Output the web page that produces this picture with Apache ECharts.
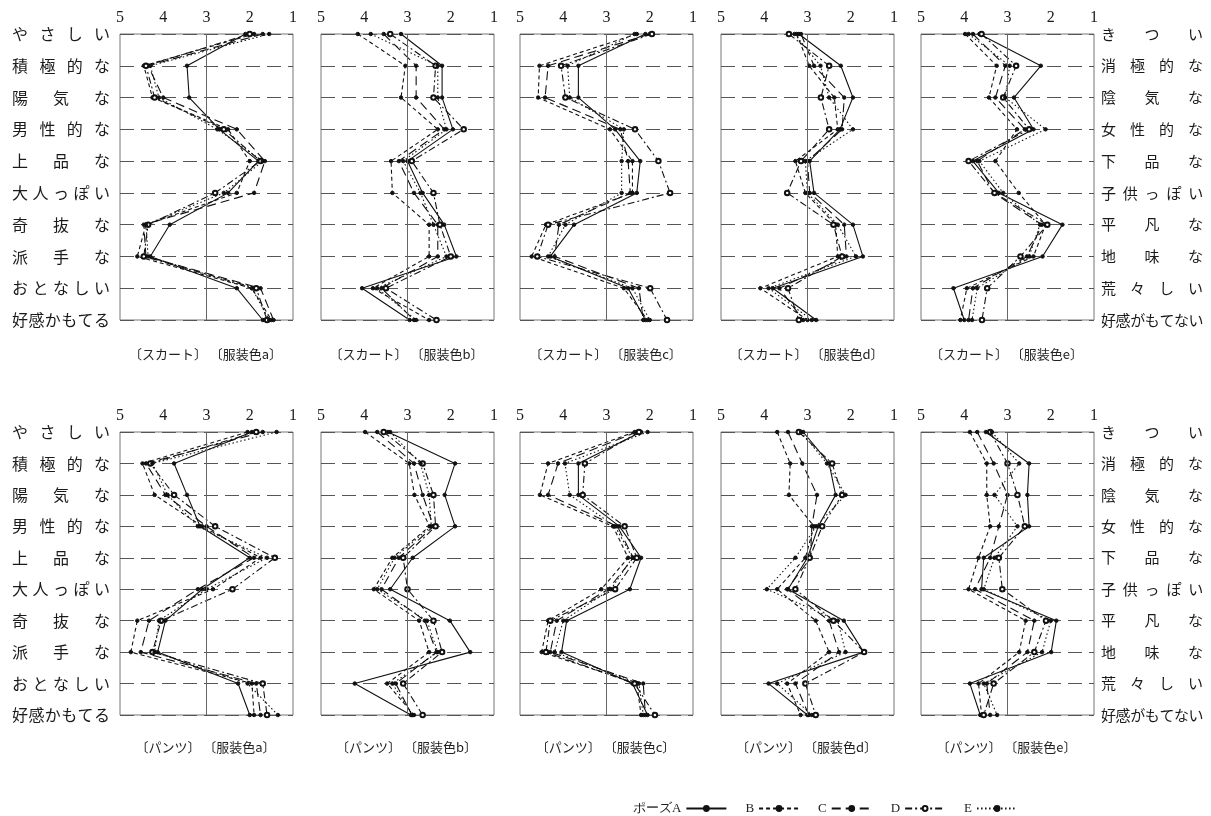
<!DOCTYPE html>
<html><head><meta charset="utf-8">
<script src="https://cdn.jsdelivr.net/npm/echarts@6/dist/echarts.min.js"></script>
<style>html,body{margin:0;padding:0;background:#fff}#c{width:1211px;height:816px}</style>
</head><body><div id="c"></div>
<script>
// ---- categories / labels ----
const leftCategories = ['やさしい','積極的な','陽気な','男性的な','上品な','大人っぽい','奇抜な','派手な','おとなしい','好感かもてる'];
const rightCategories = ['きつい','消極的な','陰気な','女性的な','下品な','子供っぽい','平凡な','地味な','荒々しい','好感がもてない'];
const poseNames = ['ポーズA','B','C','D','E'];
const panelCaptions = [
  '〔スカート〕 〔服装色a〕','〔スカート〕 〔服装色b〕','〔スカート〕 〔服装色c〕','〔スカート〕 〔服装色d〕','〔スカート〕 〔服装色e〕',
  '〔パンツ〕 〔服装色a〕','〔パンツ〕 〔服装色b〕','〔パンツ〕 〔服装色c〕','〔パンツ〕 〔服装色d〕','〔パンツ〕 〔服装色e〕'
];

// ---- values (rows: pose A, B, C, D, E; columns follow the categories) ----
const skirtA = [
  [2.1, 3.45, 3.4, 2.7, 1.8, 2.5, 3.85, 4.3, 2.3, 1.7],
  [1.9, 4.45, 4.25, 2.5, 2.0, 2.3, 4.4, 4.6, 1.95, 1.5],
  [1.7, 4.35, 4.0, 2.3, 1.65, 1.9, 4.45, 4.4, 1.75, 1.45],
  [2.0, 4.4, 4.2, 2.6, 1.75, 2.8, 4.35, 4.45, 1.85, 1.6],
  [1.55, 4.3, 4.1, 2.75, 1.7, 2.6, 4.4, 4.35, 1.95, 1.55]
];
const skirtB = [
  [3.15, 2.2, 2.2, 1.95, 3.0, 2.65, 2.15, 1.87, 4.05, 2.95],
  [4.15, 3.05, 3.15, 2.3, 3.38, 3.35, 2.5, 2.5, 3.8, 2.5],
  [3.55, 2.8, 2.8, 2.15, 3.2, 2.85, 2.3, 2.3, 3.6, 2.85],
  [3.4, 2.35, 2.4, 1.7, 2.9, 2.4, 2.25, 2.0, 3.5, 2.33],
  [3.85, 2.3, 2.3, 2.1, 3.1, 2.7, 2.4, 2.1, 3.7, 2.8]
];
const skirtC = [
  [2.1, 3.65, 3.65, 2.8, 2.22, 2.3, 3.75, 4.3, 2.5, 2.1],
  [2.3, 4.55, 4.58, 2.92, 2.4, 2.4, 4.4, 4.73, 2.6, 2.05],
  [2.0, 4.35, 4.42, 2.68, 2.5, 2.45, 4.1, 4.2, 2.25, 2.15],
  [1.95, 4.05, 3.95, 2.34, 1.8, 1.53, 4.35, 4.6, 1.99, 1.6],
  [2.35, 3.9, 3.85, 2.6, 2.65, 2.65, 3.95, 4.35, 2.4, 2.0]
];
const skirtD = [
  [3.2, 2.23, 1.95, 2.25, 2.95, 2.85, 1.95, 1.72, 3.8, 2.8],
  [3.25, 2.96, 2.38, 2.3, 3.28, 3.05, 2.35, 2.3, 4.09, 3.0],
  [3.15, 2.85, 2.15, 2.2, 3.0, 2.95, 2.15, 2.1, 3.65, 3.1],
  [3.43, 2.5, 2.69, 2.5, 3.15, 3.47, 2.4, 2.2, 3.45, 3.2],
  [3.3, 2.7, 2.5, 1.95, 3.05, 3.0, 2.3, 1.88, 3.9, 2.9]
];
const skirtE = [
  [3.65, 2.23, 2.85, 2.4, 3.8, 3.2, 1.73, 2.19, 4.25, 4.0],
  [3.98, 3.25, 3.43, 2.78, 3.28, 2.74, 2.12, 2.4, 3.94, 4.09],
  [3.8, 3.05, 3.28, 2.6, 3.7, 3.32, 2.2, 2.55, 3.8, 3.9],
  [3.6, 2.8, 3.1, 2.5, 3.9, 3.3, 2.08, 2.7, 3.47, 3.59],
  [3.9, 2.95, 3.05, 2.12, 3.65, 3.1, 2.25, 2.5, 3.7, 3.82]
];
const pantsA = [
  [1.95, 3.75, 3.45, 3.15, 2.0, 3.1, 3.95, 4.13, 2.27, 2.0],
  [2.05, 4.48, 4.2, 3.1, 1.75, 2.85, 4.6, 4.75, 1.95, 1.9],
  [1.7, 4.4, 3.95, 3.0, 1.9, 3.2, 4.33, 4.52, 1.85, 1.75],
  [1.85, 4.3, 3.75, 2.8, 1.42, 2.4, 4.05, 4.25, 1.7, 1.6],
  [1.38, 4.25, 3.9, 3.2, 1.6, 3.0, 4.1, 4.2, 2.05, 1.35]
];
const pantsB = [
  [3.45, 1.9, 2.14, 1.9, 2.88, 3.4, 2.02, 1.55, 4.22, 2.92],
  [3.98, 2.96, 2.84, 2.49, 3.35, 3.78, 2.73, 2.5, 3.47, 2.85],
  [3.7, 2.85, 2.65, 2.4, 3.2, 3.6, 2.6, 2.33, 3.27, 2.9],
  [3.55, 2.65, 2.4, 2.35, 3.1, 3.0, 2.4, 2.2, 3.1, 2.65],
  [3.4, 2.7, 2.5, 2.45, 3.3, 3.7, 2.55, 2.3, 3.35, 2.88]
];
const pantsC = [
  [2.2, 3.65, 3.65, 2.7, 2.2, 2.46, 3.92, 4.04, 2.4, 2.05],
  [2.35, 4.35, 4.54, 2.85, 2.5, 3.12, 4.35, 4.5, 2.3, 2.2],
  [2.3, 4.12, 4.35, 2.75, 2.38, 2.96, 4.15, 4.3, 2.15, 2.1],
  [2.25, 3.5, 3.55, 2.58, 2.3, 2.8, 4.3, 4.4, 2.35, 1.88],
  [2.05, 3.96, 3.85, 2.8, 2.4, 2.9, 4.0, 4.2, 2.25, 2.15]
];
const pantsD = [
  [3.1, 2.5, 2.35, 2.75, 3.0, 3.45, 2.16, 1.7, 3.9, 3.0],
  [3.7, 3.4, 3.43, 2.85, 3.05, 3.7, 2.81, 2.5, 3.47, 3.16],
  [3.45, 3.12, 2.78, 2.9, 2.93, 3.47, 2.5, 2.27, 3.28, 2.97],
  [3.2, 2.43, 2.2, 2.66, 2.95, 3.28, 2.4, 1.69, 3.05, 2.81],
  [3.15, 2.55, 2.12, 2.8, 3.28, 3.94, 2.3, 2.12, 3.7, 2.9]
];
const pantsE = [
  [3.5, 2.5, 2.54, 2.5, 3.55, 3.6, 1.87, 1.99, 3.87, 3.63],
  [3.87, 3.48, 3.48, 3.4, 3.67, 3.9, 2.58, 2.73, 3.67, 3.6],
  [3.7, 3.32, 3.0, 3.2, 3.4, 3.75, 2.38, 2.54, 3.48, 3.4],
  [3.4, 3.0, 2.77, 2.6, 3.2, 3.12, 2.11, 2.38, 3.32, 3.55],
  [3.36, 2.73, 3.3, 2.77, 3.3, 3.55, 2.0, 2.2, 3.55, 3.24]
];
const panels = [skirtA, skirtB, skirtC, skirtD, skirtE, pantsA, pantsB, pantsC, pantsD, pantsE];

// ---- layout ----
const colLefts = [120, 321, 520, 721, 921];
const plotW = 173;
const rowTops = [34, 432];
const rowHeights = [286, 283];
const serifFont = "'Liberation Serif', 'DejaVu Serif', serif";
const jpFont = "'Noto Sans CJK JP', sans-serif";

const poseStyles = [
  {type: 'solid', symbol: 'circle', size: 3.5},
  {type: [4, 3], symbol: 'circle', size: 3.5},
  {type: [9, 5], symbol: 'circle', size: 3.5},
  {type: [7, 3, 2, 3], symbol: 'emptyCircle', size: 4.5},
  {type: [1.5, 2.5], symbol: 'circle', size: 3.5}
];

function spaced(text, side) {
  const n = text.length;
  let s = '';
  for (let i = 0; i < n; i++) {
    const key = i === n - 1 ? side + 'z' : side + n;
    s += '{' + key + '|' + text[i] + '}';
  }
  return s;
}
const leftRich = {
  L3: {width: 41}, L4: {width: 27.3}, L5: {width: 20.5}, L6: {width: 16.4}, L7: {width: 14}, Lz: {width: 16}
};
const rightRich = {
  R3: {width: 43.5}, R4: {width: 29}, R5: {width: 21.8}, R6: {width: 17.4}, R7: {width: 14.6}, Rz: {width: 15}
};
Object.values(leftRich).forEach(s => { s.fontSize = 16; s.fontFamily = jpFont; s.color = '#1a1a1a'; s.align = 'left'; });
Object.values(rightRich).forEach(s => { s.fontSize = 15; s.fontFamily = jpFont; s.color = '#1a1a1a'; s.align = 'left'; });

const grids = [], xAxes = [], yAxes = [], series = [], titles = [];
panels.forEach((p, k) => {
  const row = Math.floor(k / 5), col = k % 5;
  grids.push({left: colLefts[col], top: rowTops[row], width: plotW, height: rowHeights[row],
    show: true, borderColor: '#777', borderWidth: 1, containLabel: false});
  xAxes.push({gridIndex: k, type: 'value', min: 1, max: 5, interval: 1, inverse: true, position: 'top',
    axisLine: {show: false}, axisTick: {show: false}, splitLine: {show: false},
    axisLabel: {fontFamily: serifFont, fontSize: 16, color: '#1a1a1a', margin: 8}});
  yAxes.push({gridIndex: k, type: 'category', data: leftCategories, inverse: true, boundaryGap: false,
    axisLine: {show: false}, axisTick: {show: false},
    splitLine: {show: true, lineStyle: {color: '#555', width: 1, type: [14, 7]}},
    axisLabel: {show: col === 0, interval: 0, margin: 10,
      formatter: v => spaced(v, 'L'), rich: leftRich}});
  titles.push({text: panelCaptions[k], left: colLefts[col] + plotW / 2 - 6, top: row === 0 ? 343 : 736,
    textAlign: 'center', textStyle: {fontFamily: jpFont, fontSize: 13, fontWeight: 'normal', color: '#222'}});
});
[4, 9].forEach(k => {
  yAxes.push({gridIndex: k, type: 'category', data: rightCategories, inverse: true, boundaryGap: false, position: 'right',
    axisLine: {show: false}, axisTick: {show: false}, splitLine: {show: false},
    axisLabel: {show: true, interval: 0, margin: 7, formatter: v => spaced(v, 'R'), rich: rightRich}});
});

panels.forEach((p, k) => {
  p.forEach((vals, s) => {
    const st = poseStyles[s];
    const ser = {
      name: poseNames[s], type: 'line', xAxisIndex: k, yAxisIndex: k,
      data: vals.map((v, i) => [v, i]),
      symbol: st.symbol, symbolSize: st.size, showSymbol: true,
      lineStyle: {color: '#111', width: 1.1, type: st.type},
      itemStyle: {color: '#111', borderColor: '#111', borderWidth: 1},
      animation: false, z: 3
    };
    if (s === 0) {
      ser.markLine = {silent: true, symbol: 'none', label: {show: false}, animation: false,
        lineStyle: {color: '#666', type: 'solid', width: 1}, data: [{xAxis: 3}]};
    }
    series.push(ser);
  });
});

const chart = echarts.init(document.getElementById('c'), null, {renderer: 'canvas'});
chart.setOption({
  backgroundColor: '#fff',
  animation: false,
  title: titles,
  grid: grids,
  xAxis: xAxes,
  yAxis: yAxes,
  legend: {data: poseNames, left: 628, top: 797, align: 'right', itemWidth: 40, itemHeight: 6, itemGap: 18,
    textStyle: {fontFamily: serifFont, fontSize: 13, color: '#222'}},
  series: series
});
</script>
</body></html>
